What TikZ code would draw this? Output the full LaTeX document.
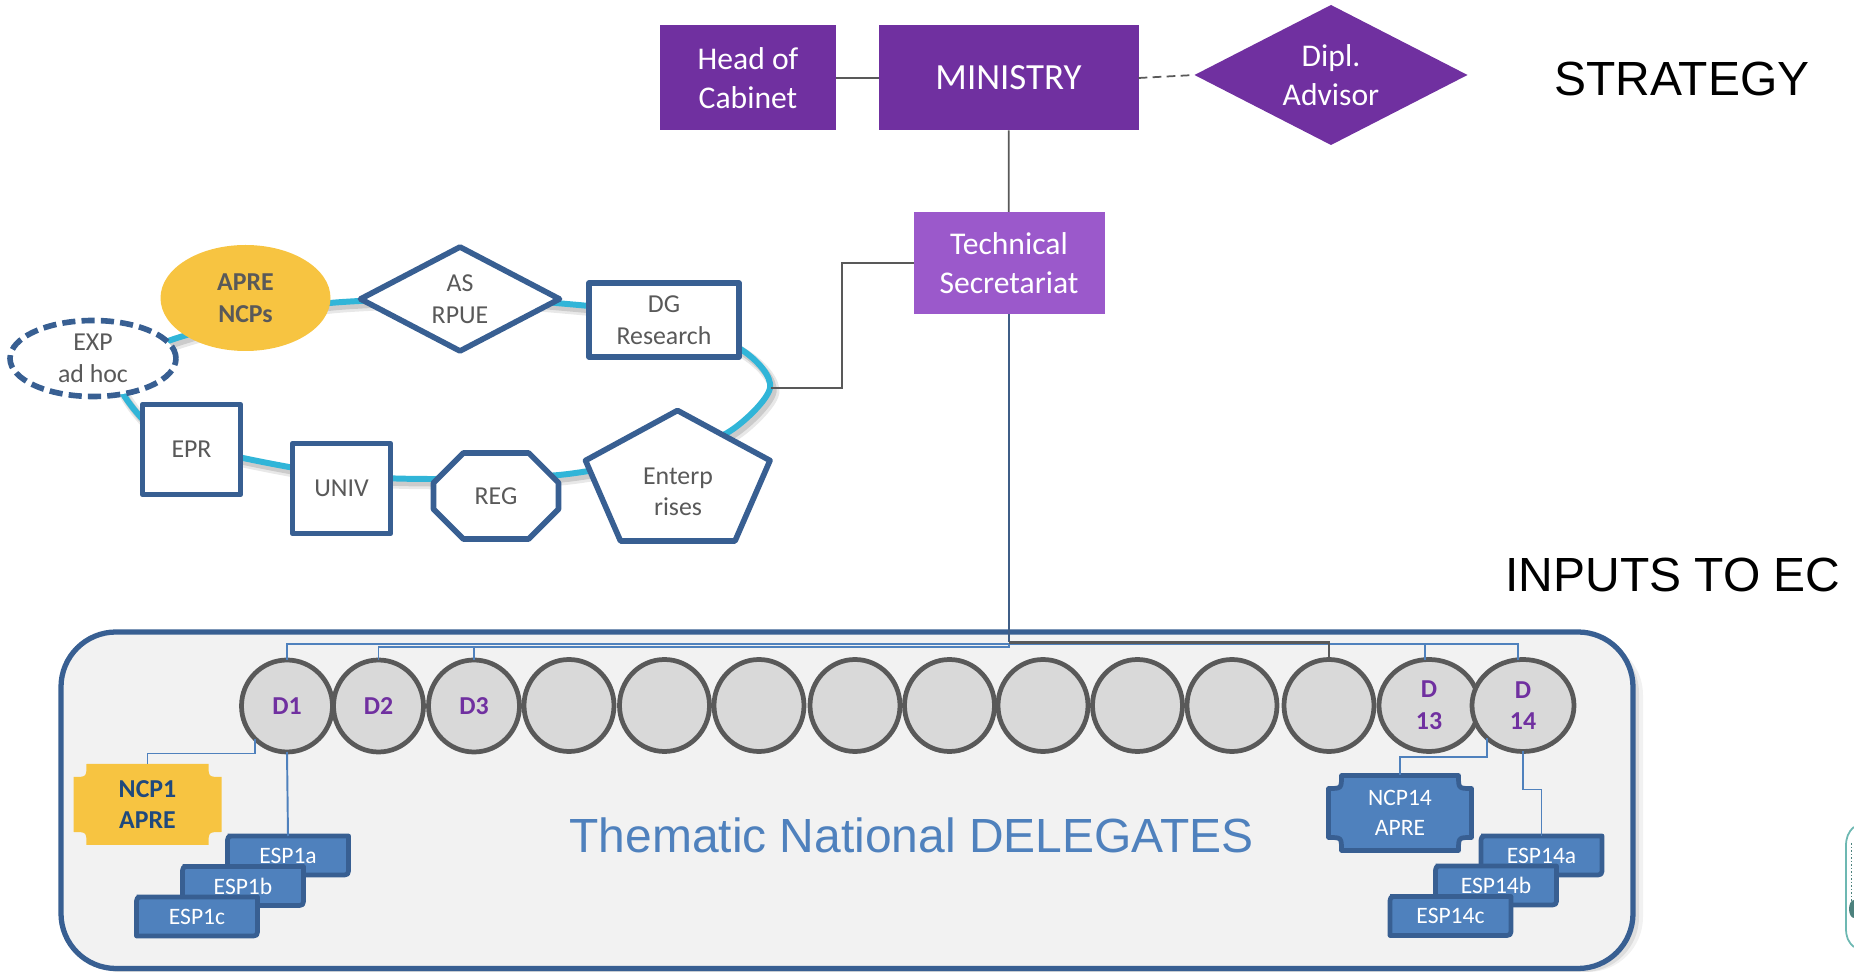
\documentclass[tikz,border=0pt]{standalone}
\usepackage{fontspec}
\setmainfont{Carlito}
\newfontfamily\arialfont{Liberation Sans}
\usetikzlibrary{shapes.geometric,shapes.misc}
\definecolor{deeppurple}{HTML}{7030A0}
\definecolor{lightpurple}{HTML}{9B59CB}
\definecolor{frameblue}{HTML}{385F92}
\definecolor{midblue}{HTML}{4F81BD}
\definecolor{ringcyan}{HTML}{31B5D8}
\definecolor{aprey}{HTML}{F7C441}
\definecolor{darktext}{HTML}{595959}
\definecolor{navytext}{HTML}{1F497D}
\definecolor{logoteal}{HTML}{6DB8B2}

% box with two soft corners: name, centre, label
\newcommand{\espbox}[3]{
  \draw[espline, shift={(#2)}] (-60.5,-19.5) -- (60.5,-19.5) -- (60.5,11.5) .. controls (60.5,19.5) .. (52.5,19.5) -- (-60.5,19.5) -- (-60.5,-11.5) .. controls (-60.5,-19.5) .. (-52.5,-19.5);
  \node[esptext] (#1) at (#2) {#3};
}
% box with hollowed corners: name, centre, half width, half height, path style, text style, label
\newcommand{\plaquebox}[7]{
  \path[#5, shift={(#2)}] (-#3+13,-#4) -- (#3-13,-#4) .. controls (#3-13,-#4+13) .. (#3,-#4+13) -- (#3,#4-13) .. controls (#3-13,#4-13) .. (#3-13,#4) -- (-#3+13,#4) .. controls (-#3+13,#4-13) .. (-#3,#4-13) -- (-#3,-#4+13) .. controls (-#3+13,-#4+13) .. (-#3+13,-#4) -- cycle;
  \node[#6, minimum width=2*#3*0.02cm, minimum height=2*#4*0.02cm] (#1) at (#2) {#7};
}
\newcommand{\ringcurve}{plot[smooth cycle] coordinates {(122,392) (165,438) (243,458) (340,475) (431,479) (559,475) (650,458) (727,433) (770,388) (742,350) (660,316) (556,303) (460,298) (330,303) (250,318) (171,340) (125,362)}}

\begin{document}
\begin{tikzpicture}[x=0.02cm,y=-0.02cm,
    toptext/.style={font=\fontsize{18}{22}\selectfont,text=white,align=center,inner sep=0pt,outer sep=0pt},
    topbox/.style={toptext,rectangle,fill=deeppurple},
    ringtext/.style={font=\fontsize{14.7}{18}\selectfont,text=darktext,align=center,inner sep=0pt,outer sep=0pt},
    ringline/.style={draw=frameblue,line width=3.2pt,fill=white,line join=round},
    ringbox/.style={ringtext,ringline,rectangle},
    delegate/.style={ellipse,draw=darktext,fill=black!15,line width=2.7pt,inner sep=0pt,outer sep=0pt,
      minimum width=92*0.02cm,minimum height=92*0.02cm,text=deeppurple,align=center,
      font=\fontsize{14.7}{18}\selectfont\bfseries},
    espline/.style={draw=frameblue,fill=midblue,line width=2.7pt,line join=round},
    esptext/.style={font=\fontsize{13.4}{17}\selectfont,text=white,inner sep=0pt,outer sep=0pt,
      minimum width=121*0.02cm,minimum height=39*0.02cm},
    greyline/.style={draw=darktext,line width=1pt},
    bluewire/.style={draw=midblue,line width=1.1pt},
    bigcaption/.style={font=\arialfont\fontsize{27.3}{32}\selectfont,inner sep=0pt}]
    \useasboundingbox (0,0) rectangle (1854,972);
    % delegates frame
    \fill[black!45,opacity=0.12,rounded corners=55*0.02cm] (67,640) rectangle (1643,972);
    \fill[black!45,opacity=0.2,rounded corners=55*0.02cm] (65,638) rectangle (1639,972);
    \draw[draw=frameblue,fill=black!5,line width=3pt,rounded corners=55*0.02cm] (61,632) rectangle (1633,968.5);
    % ring
    \draw[black!50,opacity=0.18,line width=6pt,shift={(4,5)}] \ringcurve;
    \draw[black!50,opacity=0.28,line width=4pt,shift={(3,4)}] \ringcurve;
    \draw[ringcyan,line width=3.4pt] \ringcurve;
    %
    \node[topbox,minimum width=176*0.02cm,minimum height=105*0.02cm] (cabinet) at (748,78) {Head of\\Cabinet};
    \node[topbox,minimum width=260*0.02cm,minimum height=105*0.02cm,font=\fontsize{21}{25}\selectfont] (ministry) at (1008.5,78) {MINISTRY};
    \node[toptext,diamond,aspect=1.95,fill=deeppurple,minimum width=273*0.02cm,minimum height=140*0.02cm] (dipl) at (1331,75) {Dipl.\\Advisor};
    \node[topbox,fill=lightpurple,minimum width=191*0.02cm,minimum height=102*0.02cm] (techsec) at (1009,263) {Technical\\Secretariat};
    %
    \node[ringtext,ellipse,fill=aprey,minimum width=170*0.02cm,minimum height=106*0.02cm,font=\fontsize{14.7}{18}\selectfont\bfseries] (apre) at (245.5,298) {APRE\\NCPs};
    \node[ringtext,ringline,diamond,aspect=1.91,minimum width=199*0.02cm,minimum height=104*0.02cm] (asrpue) at (460,299) {AS\\RPUE};
    \node[ringbox,minimum width=150*0.02cm,minimum height=74*0.02cm] (dgres) at (664,320) {DG\\Research};
    \node[ringtext,ringline,ellipse,dash pattern=on 7.5pt off 3.5pt,minimum width=166*0.02cm,minimum height=76*0.02cm] (exp) at (93,358.5) {EXP\\ad hoc};
    \node[ringbox,minimum width=98*0.02cm,minimum height=90*0.02cm] (epr) at (191.5,449.5) {EPR};
    \node[ringbox,minimum width=98*0.02cm,minimum height=90*0.02cm] (univ) at (341.5,488.5) {UNIV};
    \node[ringbox,chamfered rectangle,chamfered rectangle xsep=26*0.02cm,chamfered rectangle ysep=26*0.02cm,minimum width=125*0.02cm,minimum height=86*0.02cm] (reg) at (496,496) {REG};
    \draw[ringline] (677.5,410.5) -- (770,460.5) -- (735,541) -- (620.5,541) -- (585.5,460.5) -- cycle;
    \node[ringtext] (enterp) at (678,492) {Enterp\\rises};
    %
    \draw[greyline,line width=1.2pt] (cabinet) -- (ministry);
    \draw[greyline,dash pattern=on 5pt off 3pt] (ministry.east) -- (dipl.west);
    \draw[greyline] (ministry) -- (techsec);
    \coordinate (ringtap) at (771,388);
    \coordinate (tapbend) at (842,388);
    \draw[greyline] (techsec.west) -| (tapbend) -- (ringtap);
    %
    \node[delegate,minimum width=91*0.02cm] (d1) at (287,706) {D1};
    \node[delegate,minimum width=90*0.02cm] (d2) at (378.5,706) {D2};
    \node[delegate,minimum width=91*0.02cm] (d3) at (474,706) {D3};
    \node[delegate,minimum width=90*0.02cm] (d4) at (569,705.5) {};
    \node[delegate,minimum width=90*0.02cm] (d5) at (664.5,705.5) {};
    \node[delegate,minimum width=90*0.02cm] (d6) at (759,705.5) {};
    \node[delegate,minimum width=90*0.02cm] (d7) at (855,705.5) {};
    \node[delegate,minimum width=90*0.02cm] (d8) at (949.5,705.5) {};
    \node[delegate,minimum width=90*0.02cm] (d9) at (1043,705.5) {};
    \node[delegate,minimum width=90*0.02cm] (d10) at (1137.5,705.5) {};
    \node[delegate,minimum width=90*0.02cm] (d11) at (1232,705.5) {};
    \node[delegate,minimum width=90*0.02cm] (d12) at (1329,705.5) {};
    \node[delegate,minimum width=100*0.02cm] (d13) at (1429,705.5) {D\\13};
    \node[delegate,minimum width=102*0.02cm] (d14) at (1523,705.5) {D\\14};
    %
    \plaquebox{ncpa}{147.5,804.5}{74}{40.5}{fill=aprey}{font=\fontsize{14.7}{18}\selectfont\bfseries,text=navytext,align=center,inner sep=0pt,outer sep=0pt}{NCP1\\APRE}
    \plaquebox{ncpb}{1400,813}{71.5}{37.5}{espline}{font=\fontsize{13.4}{17}\selectfont,text=white,align=center,inner sep=0pt,outer sep=0pt}{NCP14\\APRE}
    %
    \espbox{espa}{288,855.5}{ESP1a}
    \espbox{espb}{243,886}{ESP1b}
    \espbox{espc}{197,916.5}{ESP1c}
    \espbox{espd}{1541.5,855.5}{ESP14a}
    \espbox{espe}{1496,885.5}{ESP14b}
    \espbox{espf}{1450.5,916}{ESP14c}
    %
    \coordinate (busa) at (1009,644);
    \coordinate (busb) at (1009,646.7);
    \draw[bluewire] (d1.north) |- (busa);
    \draw[bluewire] (d2.north) |- (busb) -- (busa);
    \draw[bluewire] (d3.north) -- (d3.north |- busb);
    \draw[bluewire] (busa) -| (d14.96);
    \draw[bluewire] (d13.95) -- (d13.95 |- busa);
    \draw[draw=frameblue!80!darktext,line width=1.5pt] (techsec.south) -- (1009,642.5);
    \draw[greyline,line width=1.2pt] (1009,642.5) -| (d12.north);
    %
    \draw[bluewire] (d1.south) -- (espa.north);
    \draw[bluewire] (d1.south west) -- ++(0,15) -| (ncpa.north);
    \draw[bluewire] (d14.south) -- ++(0,38) -| (espd.north);
    \draw[bluewire] (d14.south west) -- ++(0,19) -| (ncpb.north);
    %
    \node[bigcaption] (strategy) at (1682,79) {STRATEGY};
    \node[bigcaption] (inputs) at (1673,574.5) {INPUTS TO EC};
    \node[bigcaption,text=midblue] (thematic) at (911.5,835) {Thematic National DELEGATES};
    %
    \draw[logoteal,line width=1pt] (1854,827) .. controls (1848,832) and (1846,838) .. (1846,846) -- (1846,928) .. controls (1846,937) and (1848,942) .. (1854,947);
    \draw[logoteal!70!black,line width=1pt,densely dotted] (1851.5,843) -- (1851.5,913);
    \fill[logoteal!70!black] (1854,918) arc (90:270:5 and 9) -- cycle;
  \end{tikzpicture}
\end{document}
